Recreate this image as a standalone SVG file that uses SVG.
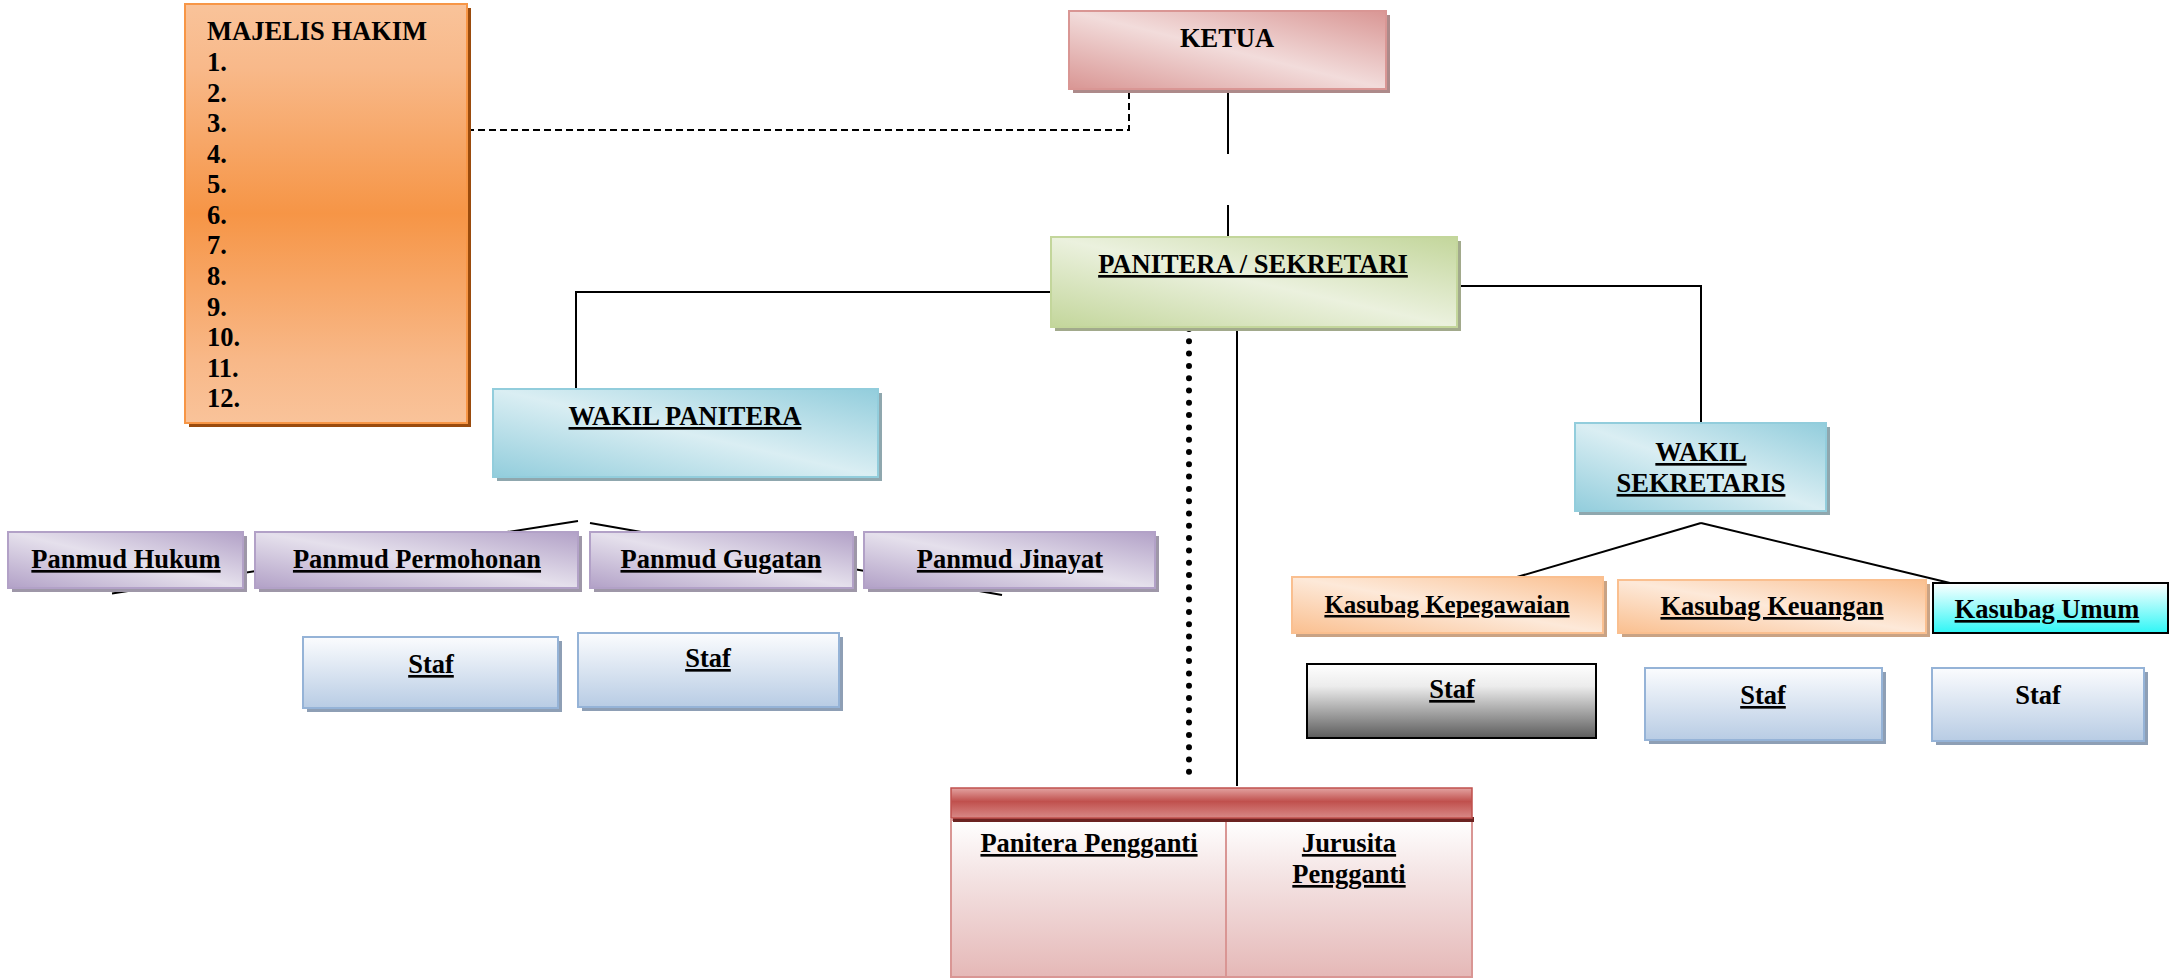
<svg xmlns="http://www.w3.org/2000/svg" width="2178" height="980" viewBox="0 0 2178 980">
<defs>
<style>
.t{font-family:"Liberation Serif","Times New Roman",serif;font-weight:bold;font-size:26.5px;fill:#000}
.u{text-decoration:underline}
.c{text-anchor:middle}
.ln{stroke:#000;stroke-width:2;fill:none}
</style>
<linearGradient id="gPink" x1="0" y1="1" x2="1" y2="0"><stop offset="0" stop-color="#d99694"/><stop offset="0.5" stop-color="#f2dcdb"/><stop offset="1" stop-color="#d99694"/></linearGradient>
<linearGradient id="gGreen" x1="0" y1="1" x2="1" y2="0"><stop offset="0" stop-color="#c3d69b"/><stop offset="0.5" stop-color="#ebf1de"/><stop offset="1" stop-color="#c3d69b"/></linearGradient>
<linearGradient id="gBlue" x1="0" y1="1" x2="1" y2="0"><stop offset="0" stop-color="#92cddc"/><stop offset="0.5" stop-color="#daeef3"/><stop offset="1" stop-color="#92cddc"/></linearGradient>
<linearGradient id="gPurple" x1="0" y1="1" x2="1" y2="0"><stop offset="0" stop-color="#b2a1c7"/><stop offset="0.5" stop-color="#e5e0ec"/><stop offset="1" stop-color="#b2a1c7"/></linearGradient>
<linearGradient id="gOrange" x1="0" y1="1" x2="1" y2="0"><stop offset="0" stop-color="#fabf8f"/><stop offset="0.5" stop-color="#fde9d9"/><stop offset="1" stop-color="#fabf8f"/></linearGradient>
<linearGradient id="gMaj" x1="0" y1="0" x2="0" y2="1"><stop offset="0" stop-color="#f9c39a"/><stop offset="0.15" stop-color="#f8b98a"/><stop offset="0.5" stop-color="#f69546"/><stop offset="0.85" stop-color="#f8b888"/><stop offset="1" stop-color="#f9c39a"/></linearGradient>
<linearGradient id="gStaf" x1="0" y1="0" x2="0" y2="1"><stop offset="0" stop-color="#fbfcfe"/><stop offset="1" stop-color="#b8cce4"/></linearGradient>
<linearGradient id="gGray" x1="0" y1="0" x2="0" y2="1"><stop offset="0" stop-color="#ffffff"/><stop offset="0.3" stop-color="#ececec"/><stop offset="1" stop-color="#5c5c5c"/></linearGradient>
<linearGradient id="gCyan" x1="0" y1="0" x2="0" y2="1"><stop offset="0" stop-color="#ffffff"/><stop offset="1" stop-color="#2ff6f6"/></linearGradient>
<linearGradient id="gBar" x1="0" y1="0" x2="0" y2="1"><stop offset="0" stop-color="#e3a3a1"/><stop offset="0.45" stop-color="#c0504d"/><stop offset="1" stop-color="#d88987"/></linearGradient>
<linearGradient id="gTab" x1="0" y1="0" x2="0" y2="1"><stop offset="0" stop-color="#ffffff"/><stop offset="0.35" stop-color="#f4e4e4"/><stop offset="1" stop-color="#e5b8b7"/></linearGradient>
</defs>

<g id="connectors">
<polyline class="ln" points="467,130 1129,130 1129,89" stroke-dasharray="7,4"/>
<line class="ln" x1="1228" y1="89" x2="1228" y2="154"/>
<line class="ln" x1="1228" y1="205" x2="1228" y2="237"/>
<polyline class="ln" points="1051,292 576,292 576,389"/>
<polyline class="ln" points="1457,286 1701,286 1701,423"/>
<line class="ln" x1="578" y1="521" x2="112" y2="593.5"/>
<line class="ln" x1="590" y1="523" x2="1002" y2="595"/>
<line class="ln" x1="1701" y1="523" x2="1517" y2="577"/>
<line class="ln" x1="1701" y1="523" x2="1950" y2="583"/>
<line x1="1189" y1="329" x2="1189" y2="783" stroke="#000" stroke-width="6" stroke-linecap="round" stroke-dasharray="0,12.3"/>
<line class="ln" x1="1237" y1="328" x2="1237" y2="786"/>
</g>

<g id="majelis-hakim">
<rect x="189" y="8" width="282" height="419" fill="#9a4b0d"/>
<rect x="185" y="4" width="282" height="419" fill="url(#gMaj)" stroke="#f79646" stroke-width="2"/>
<text class="t" x="207" y="40">MAJELIS HAKIM</text>
<text class="t" x="207" y="71">1.</text>
<text class="t" x="207" y="102">2.</text>
<text class="t" x="207" y="132">3.</text>
<text class="t" x="207" y="163">4.</text>
<text class="t" x="207" y="193">5.</text>
<text class="t" x="207" y="224">6.</text>
<text class="t" x="207" y="254">7.</text>
<text class="t" x="207" y="285">8.</text>
<text class="t" x="207" y="316">9.</text>
<text class="t" x="207" y="346">10.</text>
<text class="t" x="207" y="377">11.</text>
<text class="t" x="207" y="407">12.</text>
</g>

<g id="ketua">
<rect x="1073" y="15" width="317" height="78" fill="#ad8a8a"/>
<rect x="1069" y="11" width="317" height="78" fill="url(#gPink)" stroke="#d99694" stroke-width="2"/>
<text class="t c" x="1227" y="47">KETUA</text>
</g>

<g id="panitera-sekretari">
<rect x="1055" y="241" width="406" height="90" fill="#a2aa8c"/>
<rect x="1051" y="237" width="406" height="90" fill="url(#gGreen)" stroke="#c3d69b" stroke-width="2"/>
<text class="t c u" x="1253" y="273">PANITERA / SEKRETARI</text>
</g>

<g id="wakil-panitera">
<rect x="497" y="393" width="385" height="88" fill="#8fa7ae"/>
<rect x="493" y="389" width="385" height="88" fill="url(#gBlue)" stroke="#92cddc" stroke-width="2"/>
<text class="t c u" x="685" y="425">WAKIL PANITERA</text>
</g>

<g id="wakil-sekretaris">
<rect x="1579" y="427" width="251" height="88" fill="#8fa7ae"/>
<rect x="1575" y="423" width="251" height="88" fill="url(#gBlue)" stroke="#92cddc" stroke-width="2"/>
<text class="t c u" x="1701" y="461">WAKIL</text>
<text class="t c u" x="1701" y="492">SEKRETARIS</text>
</g>

<g id="panmud-hukum">
<rect x="12" y="536" width="235" height="56" fill="#9e97a8"/>
<rect x="8" y="532" width="235" height="56" fill="url(#gPurple)" stroke="#b2a1c7" stroke-width="2"/>
<text class="t c u" x="126" y="568">Panmud Hukum</text>
</g>

<g id="panmud-permohonan">
<rect x="259" y="536" width="323" height="56" fill="#9e97a8"/>
<rect x="255" y="532" width="323" height="56" fill="url(#gPurple)" stroke="#b2a1c7" stroke-width="2"/>
<text class="t c u" x="417" y="568">Panmud Permohonan</text>
</g>

<g id="panmud-gugatan">
<rect x="594" y="536" width="263" height="56" fill="#9e97a8"/>
<rect x="590" y="532" width="263" height="56" fill="url(#gPurple)" stroke="#b2a1c7" stroke-width="2"/>
<text class="t c u" x="721" y="568">Panmud Gugatan</text>
</g>

<g id="panmud-jinayat">
<rect x="868" y="536" width="291" height="56" fill="#9e97a8"/>
<rect x="864" y="532" width="291" height="56" fill="url(#gPurple)" stroke="#b2a1c7" stroke-width="2"/>
<text class="t c u" x="1010" y="568">Panmud Jinayat</text>
</g>

<g id="staf-1">
<rect x="307" y="641" width="255" height="71" fill="#8e9fb5"/>
<rect x="303" y="637" width="255" height="71" fill="url(#gStaf)" stroke="#95b3d7" stroke-width="2"/>
<text class="t c u" x="431" y="673">Staf</text>
</g>

<g id="staf-2">
<rect x="582" y="637" width="261" height="74" fill="#8e9fb5"/>
<rect x="578" y="633" width="261" height="74" fill="url(#gStaf)" stroke="#95b3d7" stroke-width="2"/>
<text class="t c u" x="708" y="667">Staf</text>
</g>

<g id="kasubag-kepegawaian">
<rect x="1296" y="581" width="311" height="56" fill="#c9a385"/>
<rect x="1292" y="577" width="311" height="56" fill="url(#gOrange)" stroke="#fabf8f" stroke-width="2"/>
<text class="t c u" x="1447" y="613" style="font-size:25px">Kasubag Kepegawaian</text>
</g>

<g id="kasubag-keuangan">
<rect x="1622" y="584" width="308" height="53" fill="#c9a385"/>
<rect x="1618" y="580" width="308" height="53" fill="url(#gOrange)" stroke="#fabf8f" stroke-width="2"/>
<text class="t c u" x="1772" y="615">Kasubag Keuangan</text>
</g>

<g id="kasubag-umum">
<rect x="1933" y="583" width="235" height="50" fill="url(#gCyan)" stroke="#000" stroke-width="2"/>
<text class="t c u" x="2047" y="618">Kasubag Umum</text>
</g>

<g id="staf-kepegawaian">
<rect x="1307" y="664" width="289" height="74" fill="url(#gGray)" stroke="#000" stroke-width="2"/>
<text class="t c u" x="1452" y="698">Staf</text>
</g>

<g id="staf-keuangan">
<rect x="1649" y="672" width="237" height="72" fill="#8e9fb5"/>
<rect x="1645" y="668" width="237" height="72" fill="url(#gStaf)" stroke="#95b3d7" stroke-width="2"/>
<text class="t c u" x="1763" y="704">Staf</text>
</g>

<g id="staf-umum">
<rect x="1936" y="672" width="212" height="73" fill="#8e9fb5"/>
<rect x="1932" y="668" width="212" height="73" fill="url(#gStaf)" stroke="#95b3d7" stroke-width="2"/>
<text class="t c" x="2038" y="704">Staf</text>
</g>

<g id="panitera-jurusita-pengganti">
<rect x="951" y="820" width="521" height="157" fill="url(#gTab)" stroke="#d99694" stroke-width="2"/>
<line x1="1226" y1="820" x2="1226" y2="977" stroke="#d99694" stroke-width="2"/>
<rect x="953" y="817" width="521" height="5" fill="#6b2220"/>
<rect x="951" y="788" width="521" height="30" fill="url(#gBar)" stroke="#c0504d" stroke-width="1.5"/>
<text class="t c u" x="1089" y="852">Panitera Pengganti</text>
<text class="t c u" x="1349" y="852">Jurusita</text>
<text class="t c u" x="1349" y="883">Pengganti</text>
</g>
</svg>
